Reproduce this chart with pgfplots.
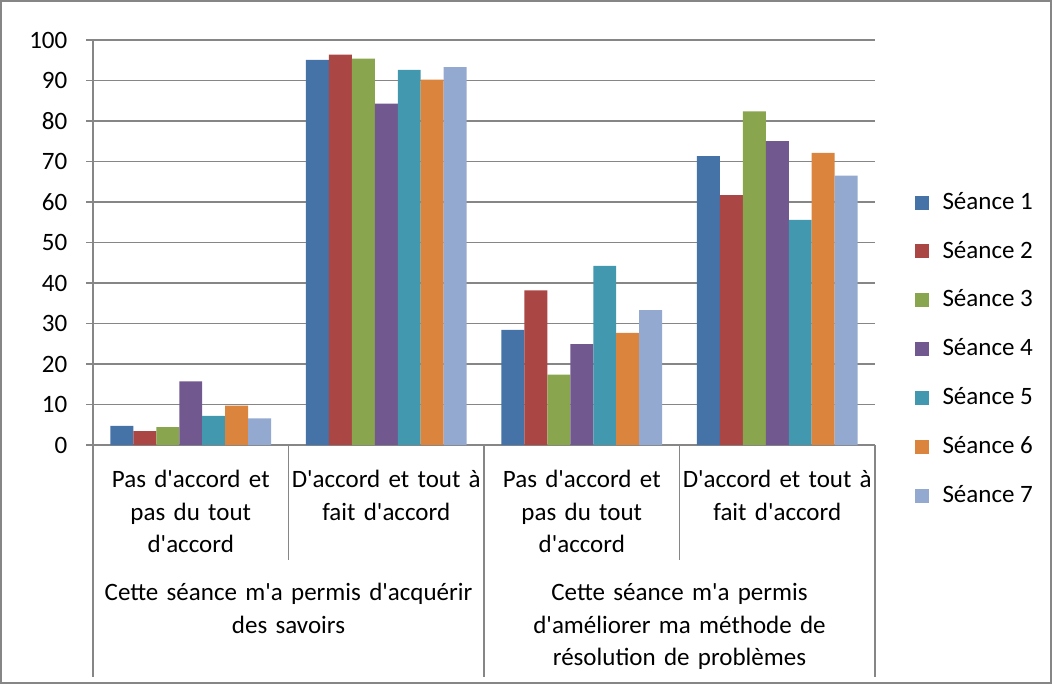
\documentclass[border=0pt]{standalone}
\usepackage{pgfplots}
\pgfplotsset{compat=1.18}
\usepackage{fontspec}
\setmainfont{Carlito}[Ligatures=TeXOff]
\definecolor{s1}{HTML}{4572A7}
\definecolor{s2}{HTML}{AA4643}
\definecolor{s3}{HTML}{89A54E}
\definecolor{s4}{HTML}{71588F}
\definecolor{s5}{HTML}{4198AF}
\definecolor{s6}{HTML}{DB843D}
\definecolor{s7}{HTML}{93A9CF}
\definecolor{linegray}{HTML}{868686}
\begin{document}
\fontsize{12.5}{16.25}\selectfont
\begin{tikzpicture}
\begin{axis}[
  clip=false,
  scale only axis, width=391pt, height=202.5pt,
  xmin=-0.5, xmax=3.5, ymin=0, ymax=100,
  ytick={0,10,...,100}, xtick=\empty,
  ymajorgrids, grid style={draw=linegray, line width=0.8pt},
  axis x line*=bottom, axis y line*=left,
  axis line style={-, draw=linegray, line width=0.8pt},
  tick align=outside, major tick length=3.5pt,
  ytick style={draw=linegray, line width=0.8pt},
  yticklabel style={font=\fontsize{12.5}{14}\selectfont, /pgf/number format/assume math mode=true, xshift=-5pt},
  legend style={at={(1.05,0.237)}, anchor=west, draw=none, fill=none,
    font=\fontsize{12.5}{14}\selectfont, row sep=10pt, column sep=5pt, inner sep=0pt},
  legend cell align=left,
  legend image code/.code={\fill[#1] (0pt,-3.5pt) rectangle (7pt,3.5pt);},
]
\addplot[ybar, bar width=0.1176, bar shift=-0.3528, fill=s1, draw=none] coordinates {(0,4.7) (1,95.1) (2,28.4) (3,71.3)};
\addplot[ybar, bar width=0.1176, bar shift=-0.2352, fill=s2, draw=none] coordinates {(0,3.4) (1,96.4) (2,38.2) (3,61.7)};
\addplot[ybar, bar width=0.1176, bar shift=-0.1176, fill=s3, draw=none] coordinates {(0,4.4) (1,95.4) (2,17.4) (3,82.4)};
\addplot[ybar, bar width=0.1176, bar shift=0, fill=s4, draw=none] coordinates {(0,15.7) (1,84.3) (2,24.9) (3,75.0)};
\addplot[ybar, bar width=0.1176, bar shift=0.1176, fill=s5, draw=none] coordinates {(0,7.2) (1,92.6) (2,44.2) (3,55.6)};
\addplot[ybar, bar width=0.1176, bar shift=0.2352, fill=s6, draw=none] coordinates {(0,9.75) (1,90.2) (2,27.7) (3,72.1)};
\addplot[ybar, bar width=0.1176, bar shift=0.3528, fill=s7, draw=none] coordinates {(0,6.6) (1,93.3) (2,33.3) (3,66.5)};
\legend{Séance 1, Séance 2, Séance 3, Séance 4, Séance 5, Séance 6, Séance 7}
% category separators
\draw[linegray, line width=0.8pt] (axis cs:-0.5,0) -- ++(0pt,-116pt);
\draw[linegray, line width=0.8pt] (axis cs:0.5,0) -- ++(0pt,-57.5pt);
\draw[linegray, line width=0.8pt] (axis cs:1.5,0) -- ++(0pt,-116pt);
\draw[linegray, line width=0.8pt] (axis cs:2.5,0) -- ++(0pt,-57.5pt);
\draw[linegray, line width=0.8pt] (axis cs:3.5,0) -- ++(0pt,-116pt);
% level 1 labels
\node[anchor=north, text width=97pt, align=center, inner sep=0pt, yshift=-12.5pt] at (axis cs:0,0) {Pas d'accord et\\pas du tout\\d'accord};
\node[anchor=north, text width=97pt, align=center, inner sep=0pt, yshift=-12.5pt] at (axis cs:1,0) {D'accord et tout à\\fait d'accord};
\node[anchor=north, text width=97pt, align=center, inner sep=0pt, yshift=-12.5pt] at (axis cs:2,0) {Pas d'accord et\\pas du tout\\d'accord};
\node[anchor=north, text width=97pt, align=center, inner sep=0pt, yshift=-12.5pt] at (axis cs:3,0) {D'accord et tout à\\fait d'accord};
% level 2 labels
\node[anchor=north, text width=195pt, align=center, inner sep=0pt, yshift=-69pt] at (axis cs:0.5,0) {Cette séance m'a permis d'acquérir\\des savoirs};
\node[anchor=north, text width=195pt, align=center, inner sep=0pt, yshift=-69pt] at (axis cs:2.5,0) {Cette séance m'a permis\\d'améliorer ma méthode de\\résolution de problèmes};
\end{axis}
\draw[linegray, line width=0.75pt] (-46.1pt,-119.1pt) rectangle (479.1pt,222.1pt);
\pgfresetboundingbox
\path[use as bounding box] (-46.5pt,-119.5pt) rectangle (479.5pt,222.5pt);
\end{tikzpicture}
\end{document}
